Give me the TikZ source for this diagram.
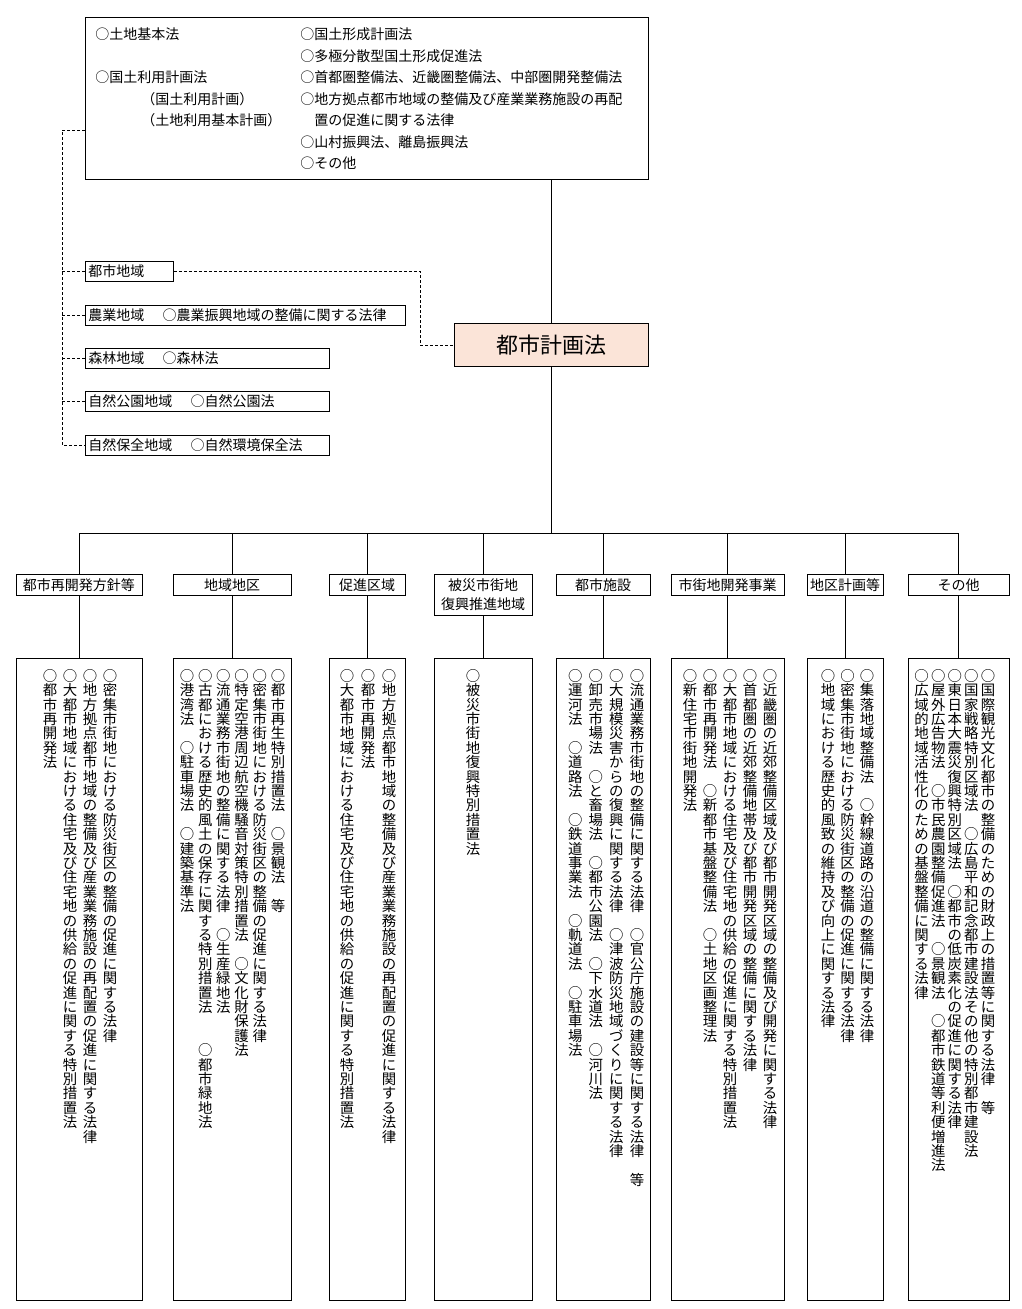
\documentclass[tikz,border=0pt]{standalone}
\usepackage{fontspec}
\setmainfont{Noto Sans CJK JP}
\definecolor{titlefill}{HTML}{FBE4D8}
% one column of upright characters, top to bottom
\makeatletter
\def\tate@loop#1{\ifx\relax#1\else\hbox to 14.4pt{\hss#1\hss}\expandafter\tate@loop\fi}
\newcommand\tate[1]{\edef\tate@txt{#1}\vtop{\baselineskip=14.4pt\lineskiplimit=-\maxdimen
  \expandafter\tate@loop\tate@txt\relax}}
\makeatother

\begin{document}
\begin{tikzpicture}[x=1pt, y=-1pt, line width=0.8pt,
  box/.style={draw, inner sep=0pt},
  law/.style={anchor=west, inner sep=0pt, font=\fontsize{14}{16}\selectfont},
  area/.style={draw, anchor=west, align=left, inner xsep=3pt, inner ysep=0pt,
    minimum height=20pt, font=\fontsize{14}{16}\selectfont},
  lbl/.style={draw, anchor=north, align=center, inner sep=0pt,
    font=\fontsize{14}{19}\selectfont},
  tcol/.style={anchor=north, inner sep=0pt, font=\fontsize{14.4}{14.4}\selectfont},
  link/.style={dash pattern=on 3pt off 2pt, line width=0.6pt}]
\useasboundingbox (0,0) rectangle (1022,1309);

% national land laws
\node[box, anchor=north west, minimum width=563pt, minimum height=162pt] (kokudo) at (85,17) {};
\foreach \xx/\yy/\txt [count=\i] in {95/34/○土地基本法, 95/77/○国土利用計画法,
    141/99/（国土利用計画）, 141/120/（土地利用基本計画）}
  \node[law] (lawl\i) at (\xx,\yy) {\txt};
\foreach \xx/\yy/\txt [count=\i] in {300/34/○国土形成計画法, 300/56/○多極分散型国土形成促進法,
    300/77/○首都圏整備法、近畿圏整備法、中部圏開発整備法,
    300/99/○地方拠点都市地域の整備及び産業業務施設の再配,
    314/120/置の促進に関する法律, 300/142/○山村振興法、離島振興法, 300/163/○その他}
  \node[law] (lawr\i) at (\xx,\yy) {\txt};

% areas
\foreach \nm/\yy/\tw/\txt in {toshi/271.5/82/都市地域,
    nogyo/315/314/農業地域\hspace{1.3em}○農業振興地域の整備に関する法律,
    shinrin/358/238/森林地域\hspace{1.3em}○森林法,
    koen/401.5/238/自然公園地域\hspace{1.3em}○自然公園法,
    hozen/445/238/自然保全地域\hspace{1.3em}○自然環境保全法}
  \node[area, text width=\tw pt] (\nm) at (85,\yy) {\txt};

\node[draw, fill=titlefill, minimum width=194pt, minimum height=43pt,
  font=\fontsize{22}{24}\selectfont] (keikaku) at (551,345) {都市計画法};

\coordinate (spine) at (62,130);
\coordinate (bend) at (420,345);
\draw[link] (kokudo.south west |- spine) -- (spine) -- (spine |- hozen.west) -- (hozen.west);
\foreach \nm in {toshi,nogyo,shinrin,koen}
  \draw[link] (spine |- \nm.west) -- (\nm.west);
\draw[link] (toshi.east) -| (bend) -- (keikaku.west);
\draw (keikaku.north |- kokudo.south) -- (keikaku.north);

% categories
\foreach \i/\cx/\w/\h/\txt in {1/79/126/21/都市再開発方針等, 2/232/118/21/地域地区,
    3/367/76/21/促進区域, 4/483/98/41/被災市街地\\復興推進地域, 5/603/94/21/都市施設,
    6/727.5/113/21/市街地開発事業, 7/845/76/21/地区計画等, 8/958.5/101/21/その他}
{
  \node[lbl, minimum width=\w pt, minimum height=\h pt] (cat\i) at (\cx,574) {\txt};
  \node[box, anchor=north, minimum width=\w pt, minimum height=642pt] (list\i) at (\cx,658) {};
  \draw (cat\i.south) -- (list\i.north);
}
\coordinate (bus) at (551,533);
\draw (keikaku.south) -- (bus);
\draw (cat1.north |- bus) -- (cat8.north |- bus);
\foreach \i in {1,...,8}
  \draw (cat\i.north |- bus) -- (cat\i.north);

% vertical lists, right to left
\foreach \txt [count=\j] in {○密集市街地における防災街区の整備の促進に関する法律,
    ○地方拠点都市地域の整備及び産業業務施設の再配置の促進に関する法律,
    ○大都市地域における住宅及び住宅地の供給の促進に関する特別措置法,
    ○都市再開発法}
  \node[tcol] (tateA\j) at ({110-20*(\j-1)},669) {\tate{\txt}};
\foreach \txt [count=\j] in {○都市再生特別措置法　○景観法　等,
    ○密集市街地における防災街区の整備の促進に関する法律,
    ○特定空港周辺航空機騒音対策特別措置法　○文化財保護法,
    ○流通業務市街地の整備に関する法律　○生産緑地法,
    ○古都における歴史的風土の保存に関する特別措置法　　○都市緑地法,
    ○港湾法　○駐車場法　○建築基準法}
  \node[tcol] (tateB\j) at ({278-18.2*(\j-1)},669) {\tate{\txt}};
\foreach \txt [count=\j] in {○地方拠点都市地域の整備及び産業業務施設の再配置の促進に関する法律,
    ○都市再開発法,
    ○大都市地域における住宅及び住宅地の供給の促進に関する特別措置法}
  \node[tcol] (tateC\j) at ({389-21*(\j-1)},669) {\tate{\txt}};
\node[tcol] (tateD1) at (473,669) {\tate{○被災市街地復興特別措置法}};
\foreach \txt [count=\j] in {○流通業務市街地の整備に関する法律　○官公庁施設の建設等に関する法律　等,
    ○大規模災害からの復興に関する法律　○津波防災地域づくりに関する法律,
    ○卸売市場法　○と畜場法　○都市公園法　○下水道法　○河川法,
    ○運河法　○道路法　○鉄道事業法　○軌道法　○駐車場法}
  \node[tcol] (tateE\j) at ({637-20.6*(\j-1)},669) {\tate{\txt}};
\foreach \txt [count=\j] in {○近畿圏の近郊整備区域及び都市開発区域の整備及び開発に関する法律,
    ○首都圏の近郊整備地帯及び都市開発区域の整備に関する法律,
    ○大都市地域における住宅及び住宅地の供給の促進に関する特別措置法,
    ○都市再開発法　○新都市基盤整備法　○土地区画整理法,
    ○新住宅市街地開発法}
  \node[tcol] (tateF\j) at ({770-20*(\j-1)},669) {\tate{\txt}};
\foreach \txt [count=\j] in {○集落地域整備法　○幹線道路の沿道の整備に関する法律,
    ○密集市街地における防災街区の整備の促進に関する法律,
    ○地域における歴史的風致の維持及び向上に関する法律}
  \node[tcol] (tateG\j) at ({867-19.5*(\j-1)},669) {\tate{\txt}};
\foreach \txt [count=\j] in {○国際観光文化都市の整備のための財政上の措置等に関する法律　等,
    ○国家戦略特別区域法　○広島平和記念都市建設法その他の特別都市建設法,
    ○東日本大震災復興特別区域法　○都市の低炭素化の促進に関する法律,
    ○屋外広告物法　○市民農園整備促進法　○景観法　○都市鉄道等利便増進法,
    ○広域的地域活性化のための基盤整備に関する法律}
  \node[tcol] (tateH\j) at ({988-16.6*(\j-1)},669) {\tate{\txt}};
\end{tikzpicture}
\end{document}
